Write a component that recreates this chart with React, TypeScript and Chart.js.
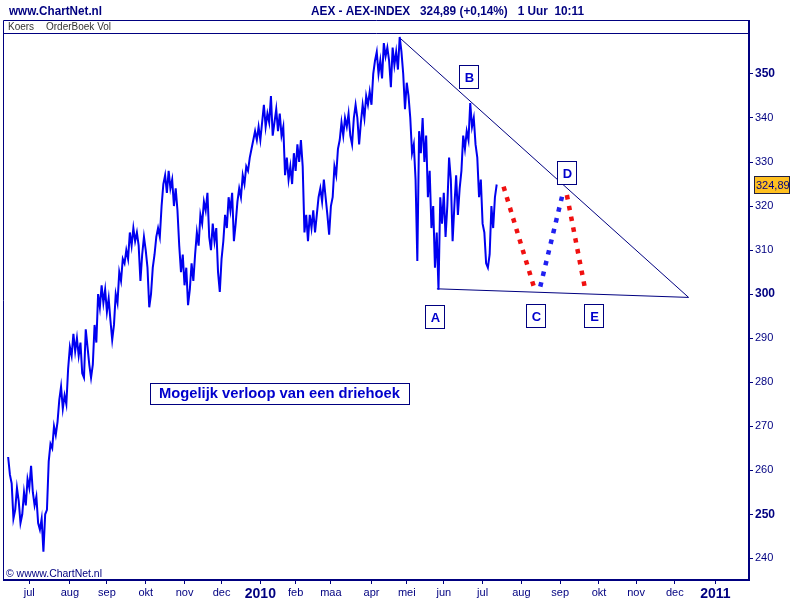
import React, { useEffect, useRef } from 'react';
import { Chart, registerables } from 'chart.js';

Chart.register(...registerables);

// ---- data (x = trading-day index, 0 = 1 July 2009) ----
const startDay = -12;
const priceValues = [
  263, 259, 257, 249, 251, 256, 253, 248, 250, 255, 252, 258,
  256, 261, 255, 252, 254, 248, 246.5, 249, 241.5, 250,
  251, 262, 266, 265, 270, 268, 271, 276, 279, 274,
  277, 275, 283, 288, 286, 291, 287, 290, 286, 289,
  282, 281, 292, 288, 284, 281, 284, 293, 289, 300,
  297, 302, 298, 301, 296, 299, 294, 289.6, 293, 300,
  298, 305, 303, 308, 307, 310, 308, 314, 311, 315,
  312, 314, 311, 303, 309, 313, 310, 306, 297, 300,
  306, 309, 313, 315, 313, 320, 325, 327, 323, 328,
  324, 326, 320, 324, 319, 311, 305, 309, 302, 306,
  297.5, 301, 307, 303, 309, 314, 311, 318, 316, 321,
  319, 323, 313, 310, 316, 312, 315, 305, 300.5, 308,
  312, 318, 315, 322, 319, 323, 312, 316, 321, 324,
  322, 327, 325, 329, 328, 331, 333, 335, 337, 335,
  338, 335, 339, 343, 338, 341, 339, 345, 336, 339,
  342, 337, 341, 336, 338, 327, 331, 326, 329, 325,
  332, 328, 334, 330, 335, 329, 314, 318, 312, 318,
  315, 319, 314, 318, 322, 324, 321, 326, 322, 318,
  313.5, 320, 322, 329, 327, 333, 335, 339, 336, 340,
  338, 341, 336, 334, 340, 343, 340, 334, 339, 343,
  340, 345, 343, 346, 343, 350, 353, 355, 350, 353,
  349, 357, 354, 356, 353, 347, 356, 352, 355, 351,
  358.4, 355, 350, 342, 348, 345, 340, 332, 334, 326,
  307.5, 337, 332, 340, 330, 336, 322, 328, 315, 320,
  306, 314, 301, 322, 316, 323, 313, 320, 331, 326,
  312, 320, 327, 318, 324, 328, 336, 333, 337, 335,
  343.4, 338, 340, 334, 331, 322, 326, 316, 314, 307,
  306, 309, 320, 315, 322, 324.89,
];
const lastPrice = 324.89;

const monthTickDays = [0, 23, 44, 66, 88, 109, 131, 151, 171, 194, 214, 235, 257, 279, 301, 323, 344, 366, 389];
const monthTickLabels = ['jul', 'aug', 'sep', 'okt', 'nov', 'dec', '2010', 'feb', 'maa', 'apr', 'mei', 'jun', 'jul', 'aug', 'sep', 'okt', 'nov', 'dec', '2011'];
const yTickValues = [240, 250, 260, 270, 280, 290, 300, 310, 320, 330, 340, 350];

// triangle and scenario lines
const upperLineDays = [210.3, 373.8];
const upperLineValues = [358.1, 299.25];
const lowerLineDays = [231.1, 373.8];
const lowerLineValues = [301.2, 299.25];
const redLeg1Days = [268.9, 286.8];
const redLeg1Values = [324.4, 300.7];
const blueLegDays = [289.7, 302.5];
const blueLegValues = [301.7, 322.9];
const redLeg2Days = [304.8, 315.2];
const redLeg2Values = [322.5, 301.0];

const waveLabels = ['A', 'B', 'C', 'D', 'E'];
const waveLabelDays = [230, 249.4, 287, 304.6, 320.1];
const waveLabelValues = [294.8, 349.2, 295.1, 327.5, 295.0];

const noteText = 'Mogelijk verloop van een driehoek';
const noteDay = 142.2;
const noteValue = 277.4;

const NAVY = '#000080';
const FONT = '"Liberation Sans", Arial, sans-serif';

const pts = (xs: number[], ys: number[]) => xs.map((x, i) => ({ x, y: ys[i] }));

function fitText(ctx: CanvasRenderingContext2D, text: string, x: number, y: number, w: number, font: string, color: string) {
  ctx.save();
  ctx.font = font;
  const m = ctx.measureText(text).width;
  ctx.translate(x, y);
  ctx.scale(w / m, 1);
  ctx.fillStyle = color;
  ctx.textBaseline = 'alphabetic';
  ctx.textAlign = 'left';
  ctx.fillText(text, 0, 0);
  ctx.restore();
}

const framePlugin = {
  id: 'chartnetFrame',
  beforeDraw(chart: any) {
    const c = chart.ctx as CanvasRenderingContext2D;
    c.save();
    c.fillStyle = '#ffffff';
    c.fillRect(0, 0, chart.width, chart.height);
    c.restore();
  },
  afterDraw(chart: any) {
    const c = chart.ctx as CanvasRenderingContext2D;
    const xs = chart.scales.x;
    const ys = chart.scales.y;
    const a = chart.chartArea;
    c.save();
    // header texts
    fitText(c, 'www.ChartNet.nl', 9, 15, 93, `bold 13px ${FONT}`, NAVY);
    fitText(c, 'AEX - AEX-INDEX   324,89 (+0,14%)   1 Uur  10:11', 311, 15, 273, `bold 13px ${FONT}`, NAVY);
    c.font = `10px ${FONT}`;
    c.fillStyle = '#333333';
    c.fillText('Koers', 8, 30);
    c.fillText('OrderBoek Vol', 46, 30);
    // frame lines
    c.strokeStyle = NAVY;
    c.lineWidth = 1;
    c.beginPath();
    c.moveTo(3.5, 20.5);
    c.lineTo(a.right, 20.5);
    c.moveTo(3.5, 20.5);
    c.lineTo(3.5, a.bottom);
    c.moveTo(3.5, a.top + 0.5);
    c.lineTo(a.right, a.top + 0.5);
    c.stroke();
    c.lineWidth = 2;
    c.beginPath();
    c.moveTo(a.right, 20);
    c.lineTo(a.right, a.top);
    c.moveTo(3, a.bottom);
    c.lineTo(a.left, a.bottom);
    c.stroke();
    // copyright
    fitText(c, '\u00a9 wwww.ChartNet.nl', 6, a.bottom - 3, 96, `11px ${FONT}`, NAVY);
    // wave labels
    c.lineWidth = 1;
    waveLabels.forEach((t, i) => {
      const px = Math.round(xs.getPixelForValue(waveLabelDays[i]));
      const py = Math.round(ys.getPixelForValue(waveLabelValues[i]));
      c.fillStyle = '#ffffff';
      c.fillRect(px - 10, py - 12, 20, 24);
      c.strokeStyle = NAVY;
      c.strokeRect(px - 9.5, py - 11.5, 19, 23);
      c.fillStyle = '#0000cc';
      c.font = `bold 13px ${FONT}`;
      c.textAlign = 'center';
      c.textBaseline = 'middle';
      c.fillText(t, px + 0.5, py + 1);
    });
    // note
    {
      const px = Math.round(xs.getPixelForValue(noteDay));
      const py = Math.round(ys.getPixelForValue(noteValue));
      c.fillStyle = '#ffffff';
      c.fillRect(px - 130, py - 11, 260, 22);
      c.strokeStyle = NAVY;
      c.strokeRect(px - 129.5, py - 10.5, 259, 21);
      fitText(c, noteText, px - 121, py + 4, 241, `bold 15px ${FONT}`, '#0000cc');
    }
    // last price label
    {
      const py = ys.getPixelForValue(lastPrice);
      c.fillStyle = '#ffc020';
      c.fillRect(754, Math.round(py) - 9, 36, 18);
      c.strokeStyle = '#202040';
      c.strokeRect(754.5, Math.round(py) - 8.5, 35, 17);
      c.fillStyle = NAVY;
      c.font = `11px ${FONT}`;
      c.textAlign = 'left';
      c.textBaseline = 'middle';
      c.fillText('324,89', 756, Math.round(py) + 1);
    }
    c.restore();
  },
};

export default function App() {
  const ref = useRef<HTMLCanvasElement | null>(null);
  useEffect(() => {
    if (!ref.current) return;
    const dotted = (xs: number[], ys: number[], color: string) => ({
      data: pts(xs, ys),
      borderColor: color,
      borderWidth: 4.5,
      borderDash: [4.5, 6.5],
      borderCapStyle: 'butt',
      pointRadius: 0,
      tension: 0,
    });
    const chart = new Chart(ref.current, {
      type: 'line',
      data: {
        datasets: [
          {
            label: 'AEX',
            data: priceValues.map((v, i) => ({ x: startDay + i, y: v })),
            borderColor: '#0000f0',
            borderWidth: 2,
            pointRadius: 0,
            tension: 0,
          },
          { data: pts(upperLineDays, upperLineValues), borderColor: NAVY, borderWidth: 1, pointRadius: 0 },
          { data: pts(lowerLineDays, lowerLineValues), borderColor: NAVY, borderWidth: 1, pointRadius: 0 },
          dotted(redLeg1Days, redLeg1Values, '#f01010'),
          dotted(blueLegDays, blueLegValues, '#2020f0'),
          dotted(redLeg2Days, redLeg2Values, '#f01010'),
        ] as any,
      },
      options: {
        animation: false,
        responsive: false,
        maintainAspectRatio: false,
        layout: { padding: { left: 4, top: 33, right: 0, bottom: 0 } },
        plugins: { legend: { display: false }, tooltip: { enabled: false } },
        scales: {
          x: {
            type: 'linear',
            position: 'bottom',
            min: -14.35,
            max: 408.05,
            afterBuildTicks: (s: any) => {
              s.ticks = monthTickDays.map((v) => ({ value: v }));
            },
            afterFit: (s: any) => {
              s.height = 20;
            },
            grid: { display: true, drawOnChartArea: false, drawTicks: true, tickLength: 4, color: NAVY, lineWidth: 1 },
            border: { display: true, color: NAVY, width: 2 },
            ticks: {
              autoSkip: false,
              maxRotation: 0,
              minRotation: 0,
              padding: 2,
              color: NAVY,
              font: (ctx: any) => {
                const lab = monthTickLabels[monthTickDays.indexOf(ctx.tick?.value)] || '';
                return /^\d{4}$/.test(lab)
                  ? { family: FONT, size: 14, weight: 'bold' }
                  : { family: FONT, size: 11 };
              },
              callback: (v: any) => monthTickLabels[monthTickDays.indexOf(Number(v))] ?? '',
            },
          },
          y: {
            type: 'linear',
            position: 'right',
            min: 235.07,
            max: 359.3,
            afterBuildTicks: (s: any) => {
              s.ticks = yTickValues.map((v) => ({ value: v }));
            },
            afterFit: (s: any) => {
              s.width = 51;
            },
            grid: { display: true, drawOnChartArea: false, drawTicks: true, tickLength: 4, color: NAVY, lineWidth: 1 },
            border: { display: true, color: NAVY, width: 2 },
            ticks: {
              padding: 2,
              color: NAVY,
              crossAlign: 'near',
              font: (ctx: any) =>
                ctx.tick && ctx.tick.value % 50 === 0
                  ? { family: FONT, size: 12, weight: 'bold' }
                  : { family: FONT, size: 11 },
              callback: (v: any) => String(v),
            },
          },
        },
      } as any,
      plugins: [framePlugin],
    });
    return () => chart.destroy();
  }, []);
  return (
    <div style={{ position: 'fixed', left: 0, top: 0, width: 800, height: 600, background: '#ffffff' }}>
      <canvas ref={ref} width={800} height={600} style={{ display: 'block', width: 800, height: 600 }} />
    </div>
  );
}
